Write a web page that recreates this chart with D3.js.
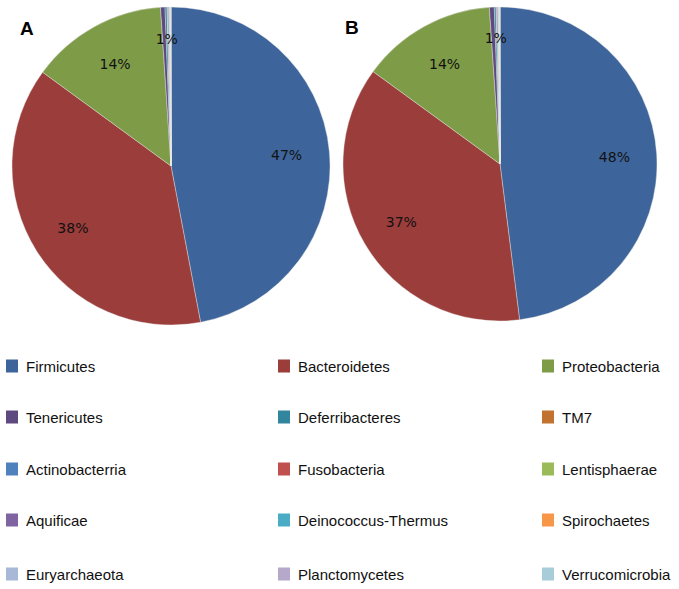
<!DOCTYPE html>
<html>
<head>
<meta charset="utf-8">
<script src="https://cdn.jsdelivr.net/npm/d3@7"></script>
<style>
  html, body { margin: 0; padding: 0; background: #fff; }
  svg { display: block; }
</style>
</head>
<body>
<svg id="chart" width="679" height="589"></svg>
<script>
// ---- data ----
const phyla = ["Firmicutes","Bacteroidetes","Proteobacteria","Tenericutes","Deferribacteres","TM7",
  "Actinobacterria","Fusobacteria","Lentisphaerae","Aquificae","Deinococcus-Thermus","Spirochaetes",
  "Euryarchaeota","Planctomycetes","Verrucomicrobia"];
const valuesA = [47.0, 38.0, 13.9, 0.45, 0.2, 0.05, 0.12, 0.05, 0.05, 0.03, 0.03, 0.02, 0.03, 0.01, 0.01];
const valuesB = [48.0, 37.0, 13.9, 0.5, 0.18, 0.05, 0.12, 0.05, 0.05, 0.03, 0.03, 0.02, 0.03, 0.01, 0.01];
const panelTitles = ["A", "B"];
const colors = ["#3e659b","#9b3d3b","#7e9b48","#5f4a80","#31869d","#c2722f",
  "#4f81bd","#c0504d","#9bbb59","#8064a2","#4bacc6","#f79646",
  "#a8b9d8","#b6a8ca","#a6cdd9"];

const svg = d3.select("#chart");
const color = d3.scaleOrdinal().domain(phyla).range(colors);

const panels = [
  {title: panelTitles[0], values: valuesA, cx: 171, cy: 166, r: 159, tx: 20, ty: 35},
  {title: panelTitles[1], values: valuesB, cx: 500, cy: 164, r: 157, tx: 345, ty: 34}
];

const pie = d3.pie().sort(null).value(d => d.v);
const labelFont = "DejaVu Sans, Verdana, sans-serif";

panels.forEach(p => {
  const data = phyla.map((name, i) => ({name, v: p.values[i]}));
  const arcs = pie(data);
  const g = svg.append("g").attr("transform", `translate(${p.cx},${p.cy})`);
  const arc = d3.arc().innerRadius(0).outerRadius(p.r);
  g.selectAll("path").data(arcs).join("path")
    .attr("d", arc)
    .attr("fill", d => color(d.data.name))
    .attr("stroke", "#e8e8e8")
    .attr("stroke-width", 0.4);

  // labels for the three main slices
  const labelArc = d3.arc().innerRadius(p.r * 0.73).outerRadius(p.r * 0.73);
  arcs.slice(0, 3).forEach(a => {
    const [x, y] = labelArc.centroid(a);
    g.append("text")
      .attr("x", x).attr("y", y)
      .attr("text-anchor", "middle")
      .attr("dominant-baseline", "central")
      .attr("font-family", labelFont)
      .attr("font-size", 14)
      .attr("fill", "#111")
      .text(Math.round(a.data.v) + "%");
  });
  // combined label for the small slices
  const rest = arcs.slice(3);
  const restSum = d3.sum(rest, a => a.data.v);
  const restArc = {startAngle: rest[0].startAngle, endAngle: rest[rest.length - 1].endAngle};
  const smallArc = d3.arc().innerRadius(p.r * 0.8).outerRadius(p.r * 0.8);
  const [sx, sy] = smallArc.centroid(restArc);
  g.append("text")
    .attr("x", sx).attr("y", sy)
    .attr("text-anchor", "middle")
    .attr("dominant-baseline", "central")
    .attr("font-family", labelFont)
    .attr("font-size", 14)
    .attr("fill", "#111")
    .text(Math.round(restSum) + "%");

  svg.append("text")
    .attr("x", p.tx).attr("y", p.ty)
    .attr("font-family", "Liberation Sans, Arial, sans-serif")
    .attr("font-weight", "bold")
    .attr("font-size", 19)
    .attr("fill", "#000")
    .text(p.title);
});

// ---- legend ----
const colX = d3.scaleOrdinal().domain([0,1,2]).range([6, 278, 542]);
const rowY = d3.scaleOrdinal().domain([0,1,2,3,4]).range([366, 417, 469, 520, 574]);
const leg = svg.append("g");
phyla.forEach((name, i) => {
  const c = i % 3, r = Math.floor(i / 3);
  const x = colX(c), y = rowY(r);
  leg.append("rect")
    .attr("x", x).attr("y", y - 6.5)
    .attr("width", 12).attr("height", 13)
    .attr("fill", color(name));
  leg.append("text")
    .attr("x", x + 20).attr("y", y)
    .attr("dominant-baseline", "central")
    .attr("font-family", "Liberation Sans, Arial, sans-serif")
    .attr("font-size", 15)
    .attr("fill", "#111")
    .text(name);
});
</script>
</body>
</html>
